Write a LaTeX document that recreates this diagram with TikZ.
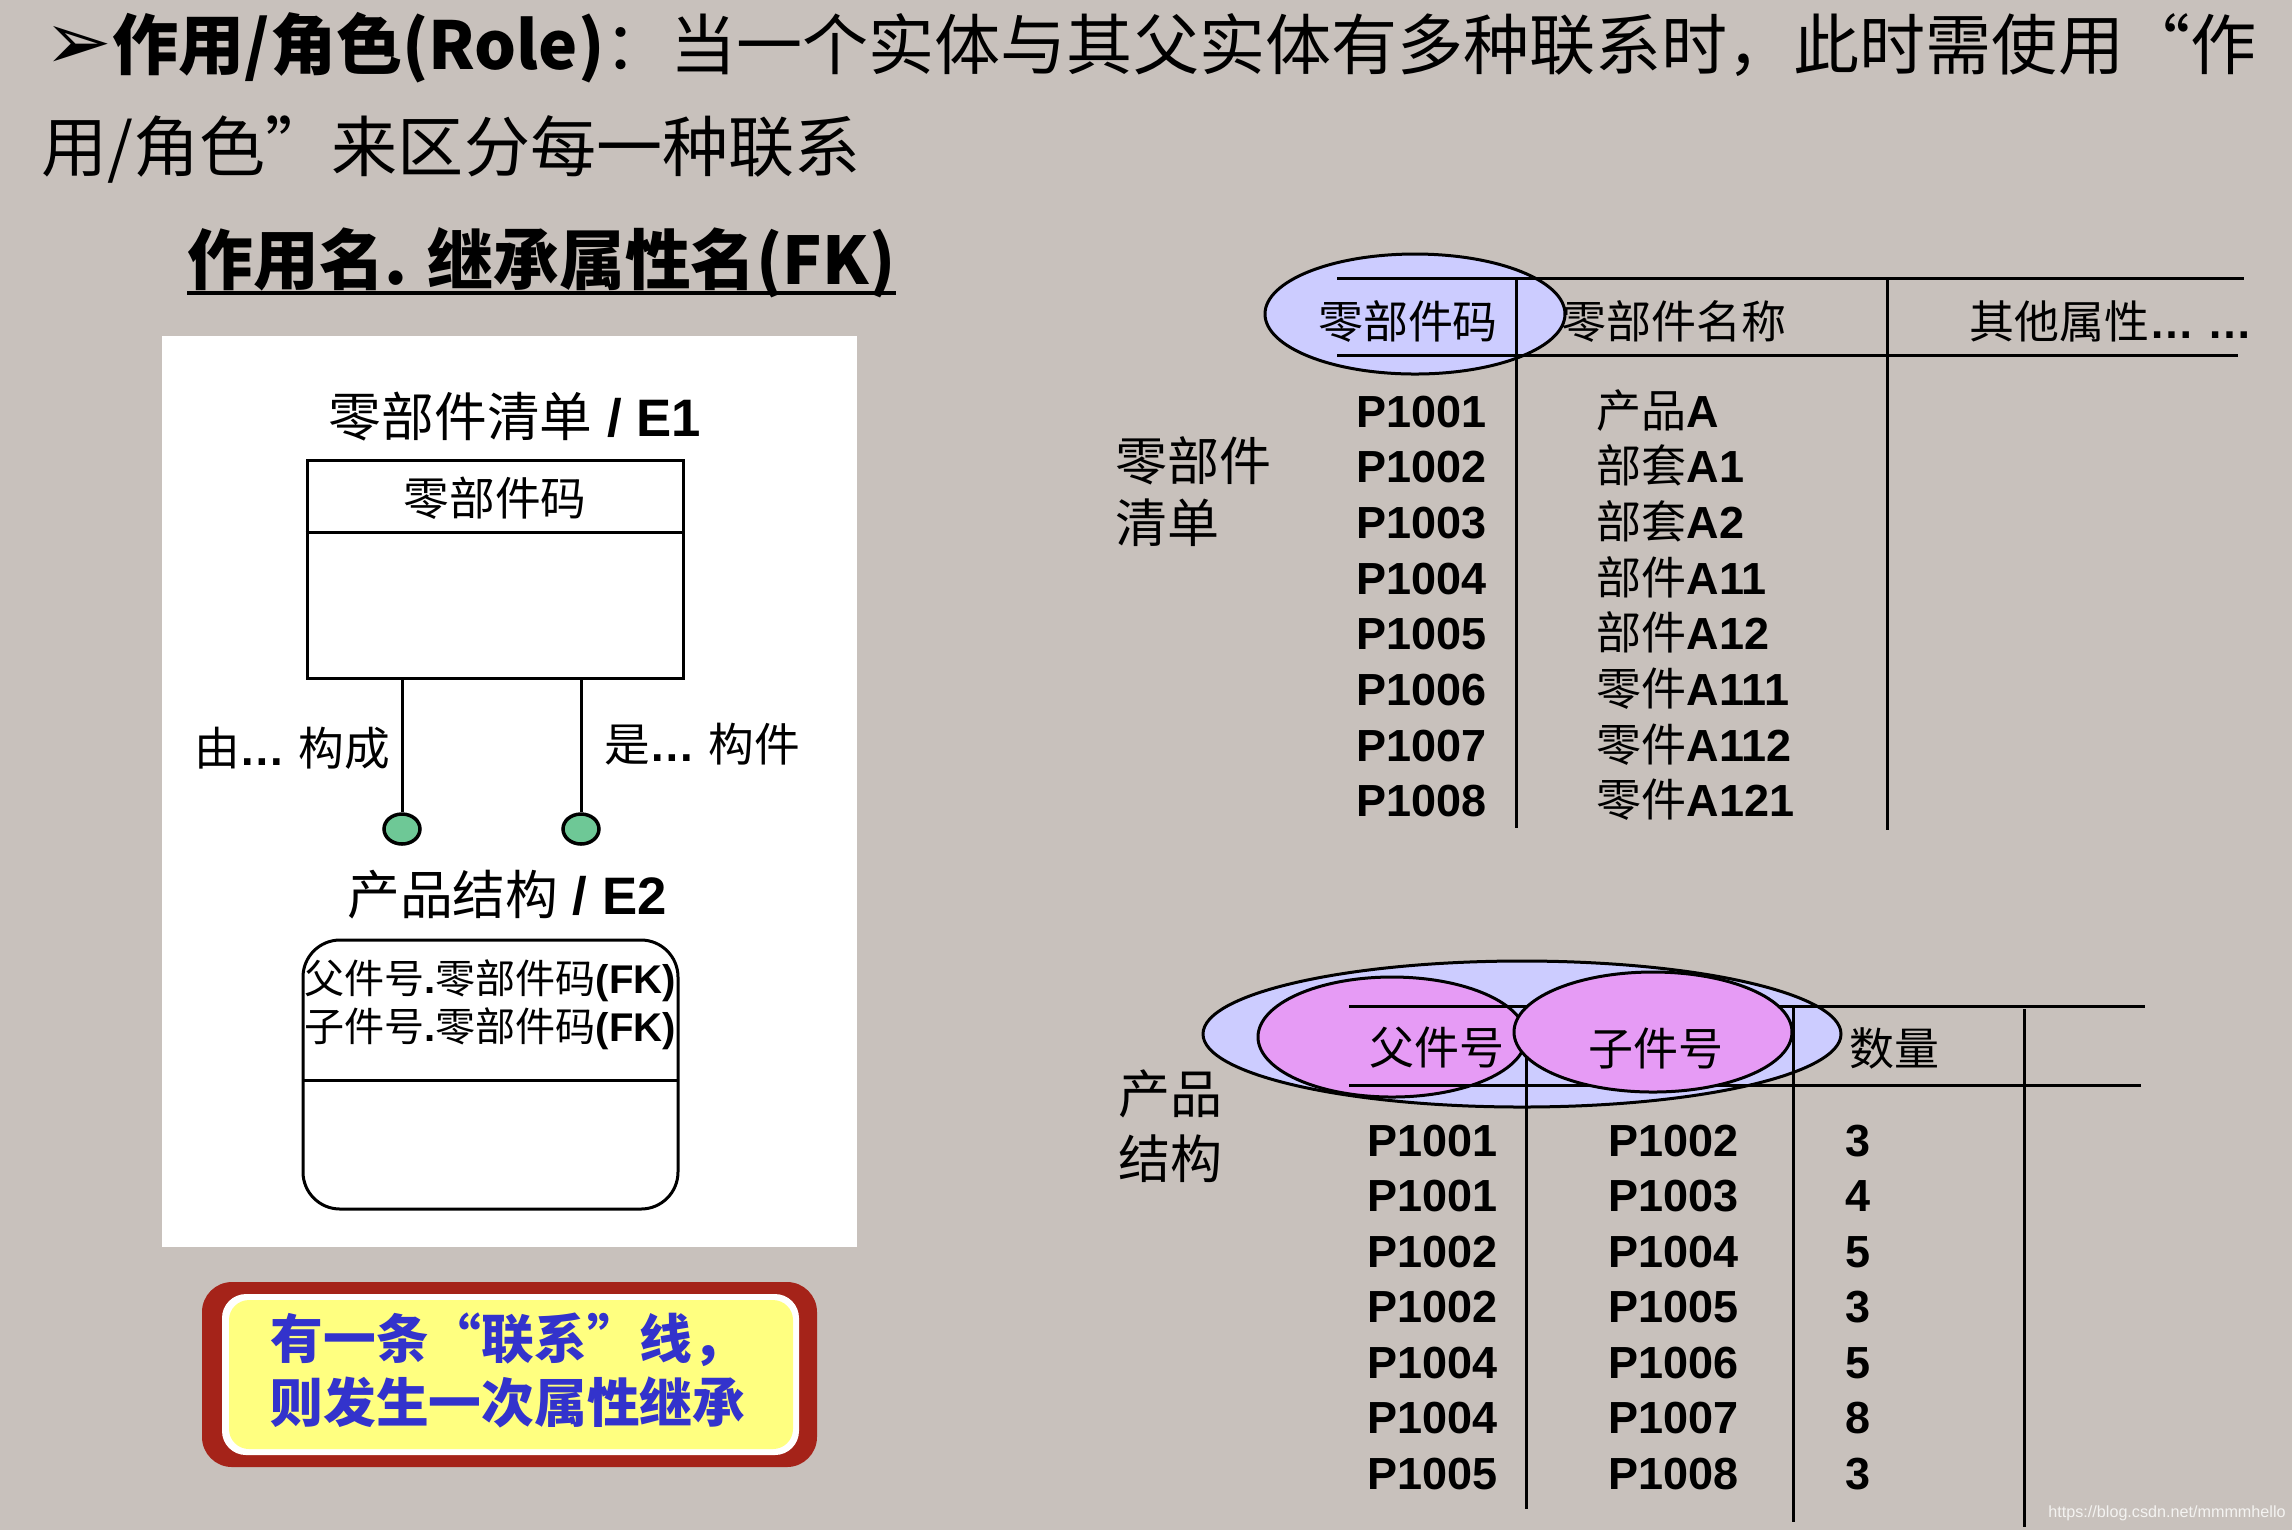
\documentclass[tikz,border=0pt]{standalone}
\usepackage{fontspec}
\setmainfont{Liberation Sans}
\newfontfamily\cjk{Noto Sans CJK SC}
\newfontfamily\dejavu{DejaVu Sans}
\usetikzlibrary{shapes.geometric}
\definecolor{bgc}{RGB}{200,193,188}
\definecolor{lav}{RGB}{204,204,255}
\definecolor{pinkc}{RGB}{230,155,245}
\definecolor{greenc}{RGB}{110,200,150}
\definecolor{redc}{RGB}{165,35,25}
\definecolor{yelc}{RGB}{255,255,128}
\definecolor{bluec}{RGB}{51,51,204}
\newcommand{\fsz}[1]{\fontsize{#1pt}{#1pt}\selectfont}
\tikzset{
  tline/.style={line width=0.3mm},
  txt/.style={inner sep=0pt, anchor=base west},
  ctxt/.style={inner sep=0pt, anchor=center},
  dot/.style={ellipse, draw, line width=0.35mm, fill=greenc, minimum width=3.6mm, minimum height=3.0mm, inner sep=0pt},
  keyell/.style={ellipse, draw, line width=0.3mm, inner sep=0pt},
}
\begin{document}
\begin{tikzpicture}[x=0.1mm,y=-0.1mm]
\useasboundingbox (0,0) rectangle (2292,1530);
\fill[bgc] (0,0) rectangle (2292,1530);

% ---------- title ----------
\node[txt] (t1) at (44,69) {\fsz{18.8}{\dejavu\fsz{23}➢}{\cjk\bfseries 作用/角色(Role)}{\cjk ：当一个实体与其父实体有多种联系时，此时需使用“作}};
\node[txt] (t2) at (41,171) {\fsz{18.8}\cjk 用/角色”来区分每一种联系};
\node[txt] (sub) at (187,284) {\fsz{18.7}\cjk\bfseries 作用名. 继承属性名(FK)};
\draw[line width=0.35mm] ([yshift=-0.9mm]sub.base west) -- ([yshift=-0.9mm]sub.base east);

% ---------- left panel ----------
\fill[white] (162,336) rectangle (857,1247);

\node[ctxt, font=\fsz{15}] (e1t) at (515,417) {{\cjk 零部件清单}\textbf{ / E1}};
\node[draw, tline, minimum width=37.6mm, minimum height=21.8mm, inner sep=0pt] (e1) at (495,569) {};
\draw[tline] (e1.west |- e1.north) ++(0,-7.4mm) -- ++(37.6mm,0);
\node[ctxt, font=\fsz{13}\cjk] (e1a) at (495,498) {零部件码};

\node[dot] (c1) at (402,829) {};
\node[dot] (c2) at (581,829) {};
\draw[tline] (c1 |- e1.south) -- (c1.north);
\draw[tline] (c2 |- e1.south) -- (c2.north);
\node[ctxt, font=\fsz{13}] (l1) at (292,748) {{\cjk 由}\textbf{… }{\cjk 构成}};
\node[ctxt, font=\fsz{13}] (l2) at (702,744) {{\cjk 是}\textbf{… }{\cjk 构件}};

\node[ctxt, font=\fsz{15}] (e2t) at (507,895) {{\cjk 产品结构}\textbf{ / E2}};
\node[draw, tline, rounded corners=3.7mm, minimum width=37.5mm, minimum height=26.9mm, inner sep=0pt] (e2) at (490.5,1074.5) {};
\draw[tline] (303,1080) -- (678,1080);
\node[ctxt, font=\fsz{11.4}] (e2a) at (490,981) {{\cjk 父件号}\textbf{.}{\cjk 零部件码}\textbf{(FK)}};
\node[ctxt, font=\fsz{11.4}] (e2b) at (490,1029) {{\cjk 子件号}\textbf{.}{\cjk 零部件码}\textbf{(FK)}};

% ---------- callout ----------
\fill[redc, rounded corners=3mm] (202,1282) rectangle (817,1467);
\fill[white, rounded corners=2.4mm] (222,1294) rectangle (799,1455);
\fill[yelc, rounded corners=2mm] (229,1300) rectangle (793,1449);
\node[txt, font=\fsz{15}\cjk\bfseries, text=bluec] (n1) at (270,1358) {有一条“联系”线，};
\node[txt, font=\fsz{15}\cjk\bfseries, text=bluec] (n2) at (270,1422) {则发生一次属性继承};

% ---------- table 1 ----------
\node[keyell, fill=lav, minimum width=30mm, minimum height=12mm] (k1) at (1415,314) {};
\draw[tline] (1337,278) -- (2244,278);
\draw[tline] (1337,355) -- (2238,355);
\draw[tline] (1516,278) -- (1516,828);
\draw[tline] (1887,278) -- (1887,830);
\node[ctxt, font=\fsz{12.8}\cjk] (h11) at (1408,321) {零部件码};
\node[ctxt, font=\fsz{12.8}\cjk] (h12) at (1674,321) {零部件名称};
\node[ctxt, font=\fsz{12.8}] (h13) at (2111,321) {{\cjk 其他属性}\textbf{… …}};
\node[txt, font=\fsz{14.8}\cjk] (lab1) at (1115,480) {零部件};
\node[txt, font=\fsz{14.8}\cjk] (lab2) at (1115,542) {清单};
\foreach \c/\a/\b [count=\i from 0] in {P1001/产品/A, P1002/部套/A1, P1003/部套/A2, P1004/部件/A11, P1005/部件/A12, P1006/零件/A111, P1007/零件/A112, P1008/零件/A121}{
  \node[txt, font=\fsz{12.8}\bfseries] (p\i) at (1356,{427+55.7*\i}) {\c};
  \node[txt, font=\fsz{12.8}] (q\i) at (1596,{427+55.7*\i}) {{\cjk \a}\textbf{\b}};
}

% ---------- table 2 ----------
\node[keyell, fill=lav, minimum width=63.8mm, minimum height=14.6mm] (k2) at (1522,1034) {};
\node[keyell, fill=pinkc, minimum width=26.8mm, minimum height=12mm] (k3) at (1392,1037) {};
\draw[tline] (1349,1006) -- (2145,1006);
\draw[tline] (1349,1085) -- (2141,1085);
\draw[tline] (1526,1006) -- (1526,1509);
\node[keyell, fill=pinkc, minimum width=27.8mm, minimum height=12mm] (k4) at (1653,1032) {};
\draw[tline] (1793,1006) -- (1793,1522);
\draw[tline] (2024,1009) -- (2024,1527);
\node[ctxt, font=\fsz{12.8}\cjk] (h21) at (1437,1048) {父件号};
\node[ctxt, font=\fsz{12.8}\cjk] (h22) at (1656,1048) {子件号};
\node[ctxt, font=\fsz{12.8}\cjk] (h23) at (1894,1048) {数量};
\node[txt, font=\fsz{14.8}\cjk] (lab3) at (1118,1113) {产品};
\node[txt, font=\fsz{14.8}\cjk] (lab4) at (1118,1178) {结构};
\foreach \a/\b/\n [count=\i from 0] in {P1001/P1002/3, P1001/P1003/4, P1002/P1004/5, P1002/P1005/3, P1004/P1006/5, P1004/P1007/8, P1005/P1008/3}{
  \node[txt, font=\fsz{12.8}\bfseries] (r\i a) at (1367,{1156+55.5*\i}) {\a};
  \node[txt, font=\fsz{12.8}\bfseries] (r\i b) at (1608,{1156+55.5*\i}) {\b};
  \node[inner sep=0pt, anchor=base, font=\fsz{12.8}\bfseries] (r\i c) at (1858,{1156+55.5*\i}) {\n};
}

\node[ctxt, font=\fsz{4.6}, text=white!80!bgc] (wm) at (2167,1513) {https://blog.csdn.net/mmmmhello};
\end{tikzpicture}
\end{document}
